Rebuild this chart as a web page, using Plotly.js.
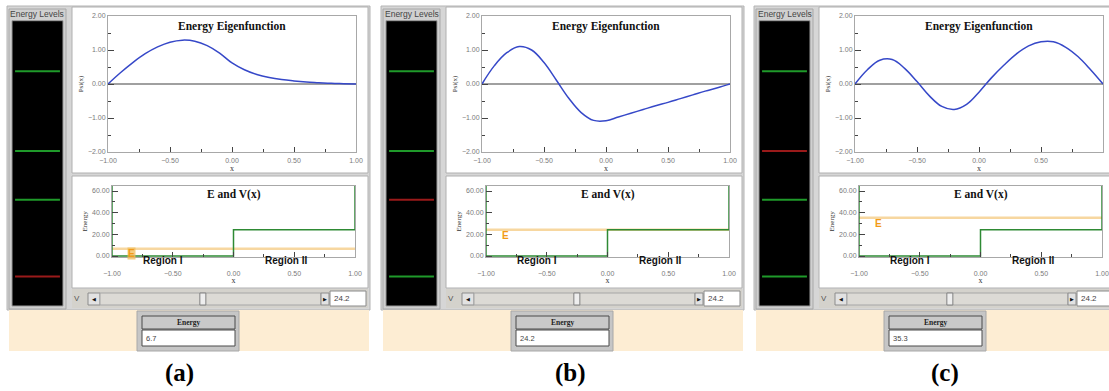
<!DOCTYPE html>
<html><head><meta charset="utf-8">
<script src="https://cdn.plot.ly/plotly-3.0.1.min.js"></script>
<style>html,body{margin:0;padding:0;background:#fff}#chart{width:1109px;height:391px}</style>
</head><body><div id="chart"></div>
<script>
// ---------------- data ----------------
const xs   = [-1.0,-0.9,-0.8,-0.7,-0.6,-0.5,-0.4,-0.3,-0.2,-0.1,0.0,0.1,0.2,0.3,0.4,0.5,0.6,0.7,0.8,0.9,1.0];
const psiA = [0.00,0.33,0.63,0.89,1.09,1.23,1.29,1.26,1.13,0.91,0.62,0.42,0.28,0.19,0.13,0.09,0.06,0.04,0.02,0.01,0.00];
const psiB = [0.00,0.54,0.92,1.10,1.00,0.63,0.11,-0.42,-0.84,-1.07,-1.08,-0.97,-0.86,-0.75,-0.64,-0.54,-0.43,-0.32,-0.21,-0.11,0.00];
const psiC = [0.00,0.42,0.70,0.72,0.46,0.07,-0.35,-0.66,-0.75,-0.60,-0.24,0.18,0.55,0.88,1.12,1.24,1.24,1.08,0.80,0.42,0.00];
const energies = [6.7, 24.2, 35.3];          // selected eigen-energy per panel
const levels   = [6.7, 24.2, 35.3, 53.5];    // energy levels shown in black box
const V0 = 24.2;                             // step potential height
const wallTop = 66;                          // infinite walls drawn to top
const panelLabels = ['(a)', '(b)', '(c)'];
const energyText  = ['6.7', '24.2', '35.3'];
const vText = '24.2';

// ---------------- layout helpers ----------------
const W = 1109, H = 391;
const fx = x => x / W, fy = y => 1 - y / H;
const DX = [0, 374, 747];
const LABELX = [179, 570, 945];
const psis = [psiA, psiB, psiC];

const shapes = [], annotations = [], traces = [];
const layout = {
  width: W, height: H, margin: {l:0, r:0, t:0, b:0},
  paper_bgcolor: '#ffffff', plot_bgcolor: 'rgba(0,0,0,0)',
  showlegend: false, shapes, annotations,
  font: {family: 'Liberation Sans, Arial, sans-serif'}
};
function rect(x0, y0, x1, y1, fill, line, lw) {
  shapes.push({type:'rect', xref:'paper', yref:'paper', layer:'below',
    x0: fx(x0), x1: fx(x1), y0: fy(y1), y1: fy(y0),
    fillcolor: fill, line: {color: line || 'rgba(0,0,0,0)', width: line ? (lw || 1) : 0}});
}
function txt(x, y, text, font, xa, ya, extra) {
  annotations.push(Object.assign({xref:'paper', yref:'paper', x: fx(x), y: fy(y), text,
    showarrow:false, xanchor: xa || 'center', yanchor: ya || 'middle', font}, extra || {}));
}
const tickFont = {family:'Liberation Sans, Arial, sans-serif', size:7, color:'#7a7a7a'};
const serifT = {family:'Liberation Serif, Times New Roman, serif', size:11.5, color:'#111'};

function baseX(dom, anchor, standoff) {
  return {domain: dom, range: [-1, 1], anchor, tickvals: [-1,-0.5,0,0.5,1], tickformat: '.2f',
    ticks: 'inside', ticklen: 5, tickcolor: '#444', tickwidth: 1, ticklabelstandoff: standoff,
    minor: {tickvals: [-0.75,-0.25,0.25,0.75], ticks:'inside', ticklen: 3, tickcolor:'#444'},
    showline: true, mirror: true, linecolor: '#a8a8a8', linewidth: 1,
    showgrid: false, zeroline: false, tickfont: tickFont, fixedrange: true,
    title: {text: 'x', font: {family:'Liberation Serif, serif', size: 8, color:'#333'}, standoff: 1}};
}

for (let i = 0; i < 3; i++) {
  const d = DX[i];
  const E = energies[i];
  // ---- chrome ----
  rect(7+d, 6, 370+d, 310, '#d6d6d6', '#b4b4b4');
  rect(9+d, 9, 66+d, 309, '#d0d0d0', '#a8a8a8');
  rect(12+d, 20.7, 63+d, 306, '#000000', '#9a9a9a');
  rect(72+d, 7, 368+d, 173, '#ffffff', '#b0b0b0');
  rect(72+d, 176, 368+d, 288, '#ffffff', '#b0b0b0');
  rect(72+d, 289, 368+d, 308, '#d4d2cc', null);
  rect(88+d, 293, 100+d, 305, '#e2e2e2', '#8c8c8c');
  rect(100+d, 293, 321+d, 305, '#dcdad5', '#a6a6a6');
  rect(321+d, 293, 329+d, 305, '#e2e2e2', '#8c8c8c');
  const thumb = 100 + d + (V0 / 52) * 221;
  rect(thumb - 3, 293, thumb + 3, 305, '#eeeeee', '#808080');
  rect(330+d, 291, 366+d, 306, '#ffffff', '#8a8a8a');
  rect(9+d, 310, 369+d, 351, '#fdedd3', null);
  rect(137+d, 311, 239+d, 351, '#c6c6c6', '#a8a8a8');
  rect(142+d, 316, 235+d, 329, '#c9c9c9', '#4a4a4a');
  rect(142+d, 330, 235+d, 346, '#ffffff', '#4a4a4a');

  txt(37.5+d, 14, 'Energy Levels', {family:'Liberation Sans, Arial, sans-serif', size:8.5, color:'#444'});
  txt(77+d, 298.5, 'V', {family:'Liberation Sans, Arial, sans-serif', size:8, color:'#555'});
  txt(94+d, 299, '◀', {family:'DejaVu Sans', size:5, color:'#111'});
  txt(325+d, 299, '▶', {family:'DejaVu Sans', size:5, color:'#111'});
  txt(332+d, 298.5, vText, {family:'Liberation Sans, Arial, sans-serif', size:8, color:'#444'}, 'left');
  txt(188.5+d, 322.5, '<b>Energy</b>', {family:'Liberation Serif, serif', size:7.5, color:'#222'});
  txt(144+d, 338, energyText[i], {family:'Liberation Sans, Arial, sans-serif', size:7.5, color:'#444'}, 'left');
  txt(LABELX[i], 373, '<b>' + panelLabels[i] + '</b>', {family:'Liberation Serif, Times New Roman, serif', size:25, color:'#000'});

  // ---- axes ----
  const n1 = 3*i + 1, n2 = 3*i + 2, n3 = 3*i + 3;
  const k = n => (n === 1 ? '' : String(n));
  // upper eigenfunction plot
  layout['xaxis' + k(n1)] = baseX([fx(108+d), fx(356+d)], 'y' + k(n1), 2);
  layout['yaxis' + k(n1)] = {domain: [fy(152), fy(16)], range: [-2, 2], anchor: 'x' + k(n1),
    tickvals: [-2,-1,0,1,2], tickformat: '.2f', ticks: 'inside', ticklen: 6, tickcolor: '#444',
    minor: {tickvals: [-1.5,-0.5,0.5,1.5], ticks:'inside', ticklen: 3, tickcolor:'#444'},
    showline: true, mirror: true, linecolor: '#a8a8a8', showgrid: false,
    zeroline: true, zerolinecolor: '#a0a0a0', zerolinewidth: 1.5,
    tickfont: tickFont, fixedrange: true,
    title: {text: 'Psi(x)', font: {family:'Liberation Serif, serif', size: 7, color:'#333'}, standoff: 3}};
  // lower E and V plot
  layout['xaxis' + k(n2)] = baseX([fx(112+d), fx(355+d)], 'y' + k(n2), 9);
  layout['yaxis' + k(n2)] = {domain: [fy(257.1), fy(185.6)], range: [-1, 65], anchor: 'x' + k(n2),
    tickvals: [0,20,40,60], tickformat: '.2f', ticks: 'inside', ticklen: 6, tickcolor: '#444',
    minor: {tickvals: [10,30,50], ticks:'inside', ticklen: 3, tickcolor:'#444'},
    showline: true, mirror: true, linecolor: '#a8a8a8', showgrid: false, zeroline: false,
    tickfont: tickFont, fixedrange: true,
    title: {text: 'Energy', font: {family:'Liberation Serif, serif', size: 7, color:'#333'}, standoff: 3}};
  // energy level box
  layout['xaxis' + k(n3)] = {domain: [fx(12+d), fx(63+d)], range: [0, 1], visible: false, anchor: 'y' + k(n3), fixedrange: true};
  layout['yaxis' + k(n3)] = {domain: [fy(306), fy(20.7)], range: [0, 65], visible: false, anchor: 'x' + k(n3), fixedrange: true};

  // ---- traces ----
  traces.push({type:'scatter', mode:'lines', x: xs, y: psis[i], xaxis:'x'+k(n1), yaxis:'y'+k(n1),
    line: {color:'#3648c8', width: 1.5, shape:'spline', smoothing: 1.1}, hoverinfo:'skip'});
  traces.push({type:'scatter', mode:'lines', x: [-1, 1], y: [E, E], xaxis:'x'+k(n2), yaxis:'y'+k(n2),
    line: {color:'#f7d7a0', width: 2.5}, hoverinfo:'skip'});
  traces.push({type:'scatter', mode:'lines', x: [-1, -1, 0, 0, 1, 1], y: [wallTop, 0, 0, V0, V0, wallTop],
    xaxis:'x'+k(n2), yaxis:'y'+k(n2), line: {color:'#2e8a34', width: 1.5}, hoverinfo:'skip'});
  const lx = [], ly = [], rx = [], ry = [];
  levels.forEach(L => {
    const sel = Math.abs(L - E) < 0.05;
    (sel ? rx : lx).push(0.06, 0.94, null);
    (sel ? ry : ly).push(L, L, null);
  });
  traces.push({type:'scatter', mode:'lines', x: lx, y: ly, xaxis:'x'+k(n3), yaxis:'y'+k(n3),
    line: {color:'#1f9a2a', width: 2}, hoverinfo:'skip'});
  traces.push({type:'scatter', mode:'lines', x: rx, y: ry, xaxis:'x'+k(n3), yaxis:'y'+k(n3),
    line: {color:'#9a1a1a', width: 2}, hoverinfo:'skip'});

  // ---- plot texts ----
  annotations.push({xref:'x'+k(n1)+' domain', yref:'y'+k(n1)+' domain', x: 0.5, y: 1, yshift: -10,
    text:'<b>Energy Eigenfunction</b>', showarrow:false, font: serifT, yanchor:'middle'});
  annotations.push({xref:'x'+k(n2)+' domain', yref:'y'+k(n2)+' domain', x: 0.5, y: 1, yshift: -9,
    text:'<b>E and V(x)</b>', showarrow:false, font: serifT, yanchor:'middle'});
  const rf = {family:'Liberation Sans, Arial, sans-serif', size: 10, color:'#111'};
  annotations.push({xref:'x'+k(n2), yref:'y'+k(n2), x: -0.58, y: 0, yshift: -4, text:'<b>Region I</b>',
    showarrow:false, font: rf, yanchor:'middle'});
  annotations.push({xref:'x'+k(n2), yref:'y'+k(n2), x: 0.43, y: 0, yshift: -4, text:'<b>Region II</b>',
    showarrow:false, font: rf, yanchor:'middle'});
  annotations.push({xref:'x'+k(n2), yref:'y'+k(n2), x: -0.84, y: Math.max(E - 5.5, 2.5), text:'<b>E</b>',
    showarrow:false, font: {family:'Liberation Sans, Arial, sans-serif', size: 10, color:'#f29a18'},
    bgcolor: i === 0 ? 'rgba(240,190,90,0.75)' : 'rgba(0,0,0,0)', borderpad: 0, yanchor:'middle'});
}

Plotly.newPlot('chart', traces, layout, {staticPlot: true, displayModeBar: false});
</script>
</body></html>
